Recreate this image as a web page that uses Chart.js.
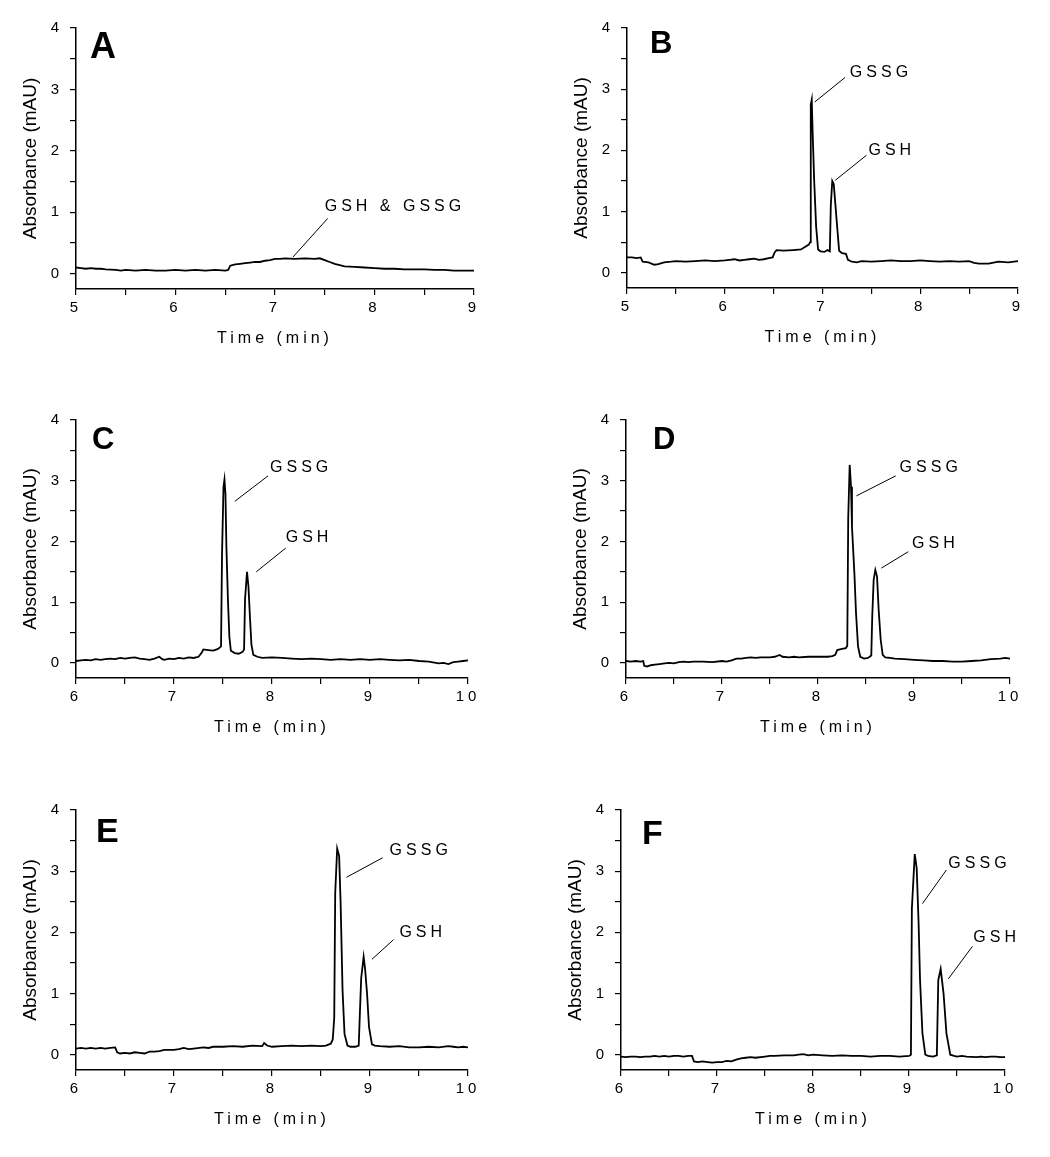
<!DOCTYPE html>
<html>
<head>
<meta charset="utf-8">
<script src="https://cdn.jsdelivr.net/npm/chart.js@4.4.1/dist/chart.umd.min.js"></script>
<style>
  body { margin: 0; background: #fff; width: 1050px; height: 1157px; position: relative; overflow: hidden; }
  canvas { position: absolute; }
</style>
</head>
<body>
<canvas id="cA"></canvas>
<canvas id="cB"></canvas>
<canvas id="cC"></canvas>
<canvas id="cD"></canvas>
<canvas id="cE"></canvas>
<canvas id="cF"></canvas>
<script>
// electropherogram traces, [time (min), absorbance (mAU)]
const traceA = [[5.0,0.10],[5.05,0.09],[5.1,0.08],[5.15,0.09],[5.2,0.08],[5.25,0.08],[5.3,0.07],[5.4,0.06],[5.45,0.05],[5.5,0.06],
  [5.6,0.05],[5.7,0.06],[5.8,0.05],[5.9,0.05],[6.0,0.06],[6.1,0.05],[6.2,0.06],[6.3,0.05],[6.4,0.06],[6.5,0.05],[6.53,0.06],
  [6.55,0.13],[6.6,0.15],[6.65,0.16],[6.7,0.17],[6.75,0.18],[6.8,0.19],[6.85,0.19],[6.9,0.21],[6.95,0.22],[7.0,0.24],[7.05,0.24],
  [7.1,0.25],[7.2,0.24],[7.3,0.25],[7.4,0.24],[7.45,0.25],[7.5,0.22],[7.55,0.19],[7.6,0.16],[7.65,0.14],[7.7,0.12],[7.8,0.11],
  [7.9,0.10],[8.0,0.09],[8.1,0.08],[8.2,0.08],[8.3,0.07],[8.4,0.07],[8.5,0.07],[8.6,0.06],[8.7,0.06],[8.8,0.05],[8.9,0.05],[9.0,0.05]];

const traceB = [[5.0,0.25],[5.05,0.25],[5.1,0.24],[5.14,0.25],[5.16,0.18],[5.22,0.17],[5.28,0.13],[5.32,0.14],[5.38,0.17],[5.45,0.18],
  [5.5,0.19],[5.6,0.18],[5.7,0.19],[5.8,0.20],[5.9,0.19],[6.0,0.20],[6.05,0.21],[6.1,0.22],[6.15,0.20],[6.2,0.21],[6.25,0.22],
  [6.3,0.23],[6.35,0.21],[6.4,0.22],[6.45,0.24],[6.49,0.25],[6.51,0.33],[6.53,0.37],[6.6,0.36],[6.7,0.37],[6.78,0.38],[6.82,0.42],
  [6.86,0.46],[6.875,0.50],[6.88,2.75],[6.89,2.83],[6.90,2.25],[6.915,1.50],[6.935,0.75],[6.955,0.38],[6.98,0.35],[7.02,0.34],
  [7.05,0.37],[7.075,0.35],[7.085,1.10],[7.10,1.50],[7.115,1.45],[7.13,1.15],[7.15,0.75],[7.17,0.36],[7.20,0.32],[7.24,0.31],
  [7.26,0.21],[7.3,0.18],[7.35,0.17],[7.4,0.19],[7.5,0.18],[7.6,0.19],[7.7,0.20],[7.8,0.19],[7.9,0.19],[8.0,0.20],[8.1,0.19],
  [8.2,0.18],[8.3,0.19],[8.4,0.18],[8.5,0.19],[8.55,0.16],[8.6,0.15],[8.7,0.15],[8.8,0.18],[8.9,0.17],[9.0,0.19]];

const traceC = [[6.0,0.03],[6.05,0.04],[6.1,0.05],[6.15,0.04],[6.2,0.06],[6.25,0.05],[6.3,0.06],[6.35,0.07],[6.4,0.06],[6.45,0.08],
  [6.5,0.07],[6.55,0.08],[6.6,0.09],[6.65,0.07],[6.7,0.06],[6.75,0.05],[6.8,0.07],[6.85,0.10],[6.88,0.06],[6.9,0.05],[6.95,0.07],
  [7.0,0.06],[7.05,0.08],[7.1,0.07],[7.15,0.09],[7.2,0.08],[7.25,0.10],[7.28,0.16],[7.3,0.22],[7.35,0.21],[7.4,0.20],[7.45,0.23],
  [7.48,0.27],[7.49,1.78],[7.505,2.90],[7.515,3.02],[7.525,2.78],[7.535,1.90],[7.55,1.05],[7.565,0.43],[7.58,0.20],[7.62,0.16],
  [7.66,0.15],[7.7,0.18],[7.715,0.22],[7.725,1.05],[7.745,1.50],[7.76,1.25],[7.775,0.75],[7.79,0.30],[7.81,0.13],[7.85,0.10],
  [7.9,0.08],[8.0,0.09],[8.1,0.08],[8.2,0.07],[8.3,0.06],[8.4,0.07],[8.5,0.06],[8.6,0.05],[8.7,0.06],[8.8,0.05],[8.9,0.06],
  [9.0,0.05],[9.1,0.06],[9.2,0.05],[9.3,0.04],[9.4,0.05],[9.5,0.03],[9.6,0.02],[9.7,-0.01],[9.75,0.0],[9.8,-0.02],[9.85,0.01],
  [9.9,0.02],[9.95,0.03],[10.0,0.04]];

const traceD = [[6.0,0.03],[6.05,0.02],[6.1,0.03],[6.15,0.02],[6.18,0.03],[6.19,-0.05],[6.22,-0.06],[6.26,-0.04],[6.3,-0.03],
  [6.35,-0.02],[6.4,-0.01],[6.45,0.0],[6.5,-0.01],[6.55,0.01],[6.6,0.02],[6.65,0.01],[6.7,0.02],[6.8,0.02],[6.9,0.01],[7.0,0.03],
  [7.05,0.02],[7.1,0.04],[7.15,0.07],[7.2,0.07],[7.25,0.08],[7.3,0.09],[7.35,0.08],[7.4,0.09],[7.5,0.09],[7.55,0.10],[7.6,0.13],
  [7.63,0.10],[7.7,0.09],[7.75,0.10],[7.8,0.09],[7.9,0.10],[8.0,0.10],[8.1,0.10],[8.15,0.11],[8.18,0.13],[8.2,0.21],[8.25,0.23],
  [8.29,0.24],[8.305,0.28],[8.315,2.40],[8.33,3.26],[8.344,2.90],[8.354,2.24],[8.379,1.48],[8.396,0.82],[8.417,0.27],[8.44,0.10],
  [8.48,0.07],[8.52,0.08],[8.555,0.12],[8.565,0.76],[8.58,1.37],[8.597,1.53],[8.615,1.42],[8.632,0.87],[8.653,0.38],[8.674,0.13],
  [8.7,0.09],[8.75,0.08],[8.8,0.07],[8.9,0.06],[9.0,0.05],[9.1,0.04],[9.2,0.03],[9.3,0.03],[9.4,0.02],[9.5,0.02],[9.6,0.03],
  [9.7,0.04],[9.8,0.06],[9.9,0.07],[9.95,0.08],[10.0,0.07]];

const traceE = [[6.0,0.10],[6.05,0.11],[6.1,0.10],[6.15,0.11],[6.2,0.10],[6.25,0.11],[6.3,0.10],[6.35,0.11],[6.40,0.12],[6.42,0.04],
  [6.45,0.02],[6.5,0.03],[6.55,0.02],[6.6,0.04],[6.65,0.03],[6.7,0.02],[6.75,0.05],[6.8,0.05],[6.85,0.06],[6.9,0.08],[7.0,0.08],
  [7.05,0.09],[7.1,0.11],[7.15,0.09],[7.2,0.10],[7.3,0.12],[7.35,0.11],[7.4,0.13],[7.5,0.13],[7.6,0.14],[7.7,0.13],[7.8,0.15],
  [7.9,0.14],[7.92,0.19],[7.95,0.15],[8.0,0.13],[8.1,0.14],[8.2,0.15],[8.3,0.14],[8.4,0.15],[8.5,0.14],[8.55,0.15],[8.6,0.18],
  [8.62,0.25],[8.635,0.60],[8.645,2.64],[8.665,3.37],[8.685,3.25],[8.70,2.49],[8.72,1.05],[8.74,0.34],[8.77,0.15],[8.8,0.13],
  [8.85,0.13],[8.885,0.15],[8.895,0.60],[8.91,1.25],[8.935,1.60],[8.95,1.40],[8.97,1.00],[8.99,0.45],[9.02,0.17],[9.05,0.15],
  [9.1,0.14],[9.2,0.13],[9.3,0.14],[9.4,0.12],[9.5,0.12],[9.6,0.13],[9.7,0.12],[9.8,0.14],[9.85,0.13],[9.9,0.12],[9.95,0.13],[10.0,0.12]];

const traceF = [[6.0,-0.03],[6.05,-0.04],[6.1,-0.03],[6.15,-0.03],[6.2,-0.04],[6.25,-0.03],[6.3,-0.03],[6.35,-0.02],[6.4,-0.03],
  [6.45,-0.02],[6.5,-0.03],[6.55,-0.02],[6.6,-0.02],[6.65,-0.03],[6.7,-0.02],[6.74,-0.02],[6.76,-0.11],[6.8,-0.12],[6.85,-0.11],
  [6.9,-0.12],[6.95,-0.13],[7.0,-0.12],[7.05,-0.12],[7.1,-0.10],[7.15,-0.11],[7.2,-0.08],[7.25,-0.06],[7.3,-0.05],[7.35,-0.04],
  [7.4,-0.05],[7.5,-0.03],[7.55,-0.02],[7.6,-0.02],[7.7,-0.01],[7.8,-0.01],[7.85,0.0],[7.9,0.01],[7.95,-0.01],[8.0,0.0],[8.1,-0.01],
  [8.2,-0.02],[8.3,-0.01],[8.4,-0.02],[8.5,-0.02],[8.6,-0.03],[8.7,-0.02],[8.8,-0.02],[8.9,-0.03],[9.0,-0.02],[9.02,0.0],[9.03,2.39],
  [9.06,3.28],[9.08,3.05],[9.10,2.15],[9.115,1.22],[9.14,0.35],[9.17,0.0],[9.2,-0.02],[9.25,-0.03],[9.29,-0.01],[9.305,1.22],
  [9.33,1.40],[9.36,1.00],[9.39,0.35],[9.43,0.0],[9.47,-0.02],[9.5,-0.03],[9.55,-0.02],[9.6,-0.03],[9.7,-0.04],[9.75,-0.03],
  [9.8,-0.04],[9.85,-0.03],[9.9,-0.03],[9.95,-0.04],[10.0,-0.04]];

// tick positions (majors labelled, half steps unlabelled)
const xTicks5to9 = [5, 5.5, 6, 6.5, 7, 7.5, 8, 8.5, 9];
const xTicks6to10 = [6, 6.5, 7, 7.5, 8, 8.5, 9, 9.5, 10];
const yTicks = [0, 0.5, 1, 1.5, 2, 2.5, 3, 3.5, 4];

const FONT = "'Liberation Sans', Arial, Helvetica, sans-serif";

// peak labels: leader line from -> to, text starting at "at" (data units)
const notesA = [{ text: 'GSH & GSSG', from: [7.18, 0.27], to: [7.53, 0.90], at: [7.50, 1.10] }];
const notesB = [{ text: 'GSSG', from: [6.92, 2.79], to: [7.23, 3.19], at: [7.28, 3.27] },
                { text: 'GSH', from: [7.13, 1.51], to: [7.45, 1.92], at: [7.47, 2.00] }];
const notesC = [{ text: 'GSSG', from: [7.62, 2.66], to: [7.96, 3.08], at: [7.98, 3.22] },
                { text: 'GSH', from: [7.84, 1.50], to: [8.14, 1.89], at: [8.14, 2.06] }];
const notesD = [{ text: 'GSSG', from: [8.40, 2.75], to: [8.81, 3.08], at: [8.85, 3.21] },
                { text: 'GSH', from: [8.66, 1.56], to: [8.94, 1.83], at: [8.98, 1.97] }];
const notesE = [{ text: 'GSSG', from: [8.76, 2.90], to: [9.13, 3.22], at: [9.20, 3.34] },
                { text: 'GSH', from: [9.02, 1.56], to: [9.24, 1.88], at: [9.30, 2.00] }];
const notesF = [{ text: 'GSSG', from: [9.14, 2.47], to: [9.39, 3.02], at: [9.41, 3.13] },
                { text: 'GSH', from: [9.41, 1.24], to: [9.66, 1.77], at: [9.67, 1.92] }];

// where each plot area sits on the page
const panels = [
  { id: 'A', trace: traceA, xMin: 5, xMax: 9, xTicks: xTicks5to9, notes: notesA,
    area: { l: 76, r: 474, t: 28, b: 289 }, letter: { dx: 14, dy: 30, size: 36 } },
  { id: 'B', trace: traceB, xMin: 5, xMax: 9, xTicks: xTicks5to9, notes: notesB,
    area: { l: 627, r: 1018, t: 28, b: 288 }, letter: { dx: 23, dy: 25, size: 31 } },
  { id: 'C', trace: traceC, xMin: 6, xMax: 10, xTicks: xTicks6to10, notes: notesC,
    area: { l: 76, r: 468, t: 420, b: 678 }, letter: { dx: 16, dy: 29, size: 31 } },
  { id: 'D', trace: traceD, xMin: 6, xMax: 10, xTicks: xTicks6to10, notes: notesD,
    area: { l: 626, r: 1010, t: 420, b: 678 }, letter: { dx: 27, dy: 29, size: 31 } },
  { id: 'E', trace: traceE, xMin: 6, xMax: 10, xTicks: xTicks6to10, notes: notesE,
    area: { l: 76, r: 468, t: 810, b: 1070 }, letter: { dx: 20, dy: 32, size: 34 } },
  { id: 'F', trace: traceF, xMin: 6, xMax: 10, xTicks: xTicks6to10, notes: notesF,
    area: { l: 621, r: 1005, t: 810, b: 1070 }, letter: { dx: 21, dy: 34, size: 34 } }
];

const Y_AXIS_W = 70, X_AXIS_H = 64, PAD_T = 26, PAD_R = 24;

// x axis text is drawn letter-spaced (before datasets), y axis text is not (after)
const spacedText = {
  id: 'spacedText',
  beforeDraw(chart) { chart.ctx.letterSpacing = '4px'; },
  beforeDatasetsDraw(chart) { chart.ctx.letterSpacing = '0px'; }
};

const peakNotes = {
  id: 'peakNotes',
  afterDraw(chart, args, opts) {
    const { ctx, chartArea } = chart;
    const x = chart.scales.x, y = chart.scales.y;
    ctx.save();
    ctx.fillStyle = '#000';
    ctx.textAlign = 'left';
    ctx.textBaseline = 'alphabetic';
    ctx.font = 'bold ' + opts.letter.size + 'px ' + FONT;
    ctx.fillText(opts.id, chartArea.left + opts.letter.dx, chartArea.top + opts.letter.dy);

    ctx.letterSpacing = '4px';
    ctx.font = '16px ' + FONT;
    ctx.textBaseline = 'middle';
    ctx.strokeStyle = '#000';
    ctx.lineWidth = 1;
    opts.notes.forEach(n => {
      ctx.beginPath();
      ctx.moveTo(x.getPixelForValue(n.from[0]), y.getPixelForValue(n.from[1]));
      ctx.lineTo(x.getPixelForValue(n.to[0]), y.getPixelForValue(n.to[1]));
      ctx.stroke();
      ctx.fillText(n.text, x.getPixelForValue(n.at[0]), y.getPixelForValue(n.at[1]));
    });
    ctx.restore();
  }
};

panels.forEach(p => {
  const cv = document.getElementById('c' + p.id);
  const w = (p.area.r - p.area.l) + Y_AXIS_W + PAD_R;
  const h = (p.area.b - p.area.t) + PAD_T + X_AXIS_H;
  cv.width = w; cv.height = h;
  cv.style.width = w + 'px'; cv.style.height = h + 'px';
  cv.style.left = (p.area.l - Y_AXIS_W) + 'px';
  cv.style.top = (p.area.t - PAD_T) + 'px';

  new Chart(cv.getContext('2d'), {
    type: 'line',
    data: {
      datasets: [{
        data: p.trace.map(d => ({ x: d[0], y: d[1] })),
        borderColor: '#000',
        borderWidth: 1.8,
        pointRadius: 0,
        tension: 0,
        fill: false
      }]
    },
    options: {
      responsive: false,
      animation: false,
      events: [],
      layout: { padding: { top: PAD_T, right: PAD_R, left: 0, bottom: 0 } },
      plugins: {
        legend: { display: false },
        tooltip: { enabled: false },
        peakNotes: { id: p.id, letter: p.letter, notes: p.notes }
      },
      scales: {
        x: {
          type: 'linear',
          min: p.xMin,
          max: p.xMax,
          afterBuildTicks: s => { s.ticks = p.xTicks.map(v => ({ value: v })); },
          afterFit: s => { s.height = X_AXIS_H; },
          grid: { drawOnChartArea: false, tickLength: 6, color: '#000', lineWidth: 1.2 },
          border: { color: '#000', width: 1.5 },
          ticks: {
            autoSkip: false, maxRotation: 0, padding: 4, color: '#000',
            font: { family: FONT, size: 15 },
            callback: v => Number.isInteger(v) ? String(v) : ''
          },
          title: {
            display: true, text: 'Time (min)', color: '#000',
            font: { family: FONT, size: 16 }, padding: { top: 0, bottom: 5 }
          }
        },
        y: {
          min: -0.25,
          max: 4,
          afterBuildTicks: s => { s.ticks = yTicks.map(v => ({ value: v })); },
          afterFit: s => { s.width = Y_AXIS_W; },
          grid: { drawOnChartArea: false, tickLength: 6, color: '#000', lineWidth: 1.2, z: 1 },
          border: { color: '#000', width: 1.5, z: 1 },
          ticks: {
            padding: 11, color: '#000', z: 1,
            font: { family: FONT, size: 15 },
            callback: v => Number.isInteger(v) ? String(v) : ''
          },
          title: {
            display: true, text: 'Absorbance (mAU)', color: '#000',
            font: { family: FONT, size: 19 }, padding: { top: 13, bottom: 0 }
          }
        }
      }
    },
    plugins: [spacedText, peakNotes]
  });
});
</script>
</body>
</html>
